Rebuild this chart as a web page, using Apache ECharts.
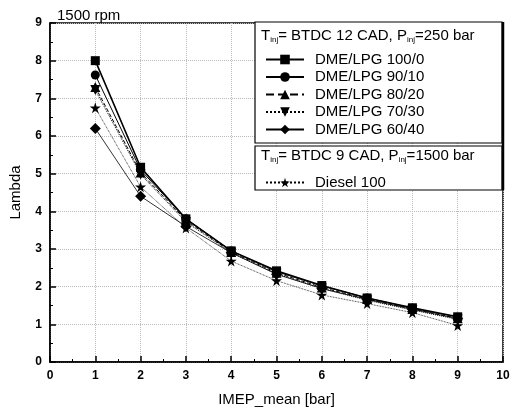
<!DOCTYPE html>
<html><head><meta charset="utf-8">
<script src="https://cdn.jsdelivr.net/npm/echarts@6/dist/echarts.min.js"></script>
<style>html,body{margin:0;padding:0;background:#fff}#c{width:525px;height:414px}</style>
</head><body><div id="c"></div>
<script>
const imep = [1, 2, 3, 4, 5, 6, 7, 8, 9];
const dme100_0 = [8.0, 5.17, 3.80, 2.95, 2.42, 2.03, 1.70, 1.44, 1.20];
const dme90_10 = [7.62, 5.10, 3.80, 2.95, 2.40, 2.02, 1.70, 1.43, 1.19];
const dme80_20 = [7.30, 5.03, 3.76, 2.92, 2.37, 1.98, 1.67, 1.41, 1.16];
const dme70_30 = [7.22, 4.98, 3.72, 2.90, 2.34, 1.95, 1.64, 1.38, 1.13];
const dme60_40 = [6.20, 4.40, 3.60, 2.90, 2.33, 1.95, 1.66, 1.40, 1.15];
const diesel100 = [6.75, 4.65, 3.56, 2.68, 2.16, 1.78, 1.55, 1.31, 0.97];
const seriesNames = ['DME/LPG 100/0','DME/LPG 90/10','DME/LPG 80/20','DME/LPG 70/30','DME/LPG 60/40','Diesel 100'];
const xTicks = [0,1,2,3,4,5,6,7,8,9,10];
const yTicks = [0,1,2,3,4,5,6,7,8,9];

const star = 'path://M50,0 L61,35 L98,35 L68,57 L79,91 L50,70 L21,91 L32,57 L2,35 L39,35 Z';
function pts(arr){ return imep.map((x,i)=>[x,arr[i]]); }
function mk(name, arr, symbol, size, lw, ltype, rot){
  return {name, type:'line', data:pts(arr), symbol, symbolSize:size, symbolRotate:rot||0,
    itemStyle:{color:'#000'}, lineStyle:{color:'#000', width:lw, type:ltype}, z:3};
}
const chart = echarts.init(document.getElementById('c'));
const sub = {fontSize:8, fontFamily:'Liberation Sans', color:'#000', padding:[8,0,0,0]};
const main = {fontSize:15, fontFamily:'Liberation Sans', color:'#000'};
const legText = {fontSize:15, fontFamily:'Liberation Sans', color:'#000', padding:[0,0,0,6]};
chart.setOption({
  animation:false,
  backgroundColor:'#fff',
  title:{text:'1500 rpm', left:52, top:3, textStyle:{fontSize:15, fontWeight:'normal', fontFamily:'Liberation Sans', color:'#000'}},
  grid:{left:49, right:22, top:23, bottom:52, show:true, borderColor:'#000', borderWidth:1.5, backgroundColor:'transparent'},
  xAxis:{type:'value', min:0, max:10, interval:1,
    name:'IMEP_mean [bar]', nameLocation:'middle', nameGap:30,
    nameTextStyle:{fontSize:15, fontFamily:'Liberation Sans', color:'#000'},
    axisLine:{lineStyle:{color:'#000', width:1.5}},
    axisTick:{inside:true, length:6, lineStyle:{color:'#000', width:1.5}},
    minorTick:{show:true, splitNumber:2, length:3, lineStyle:{color:'#000'}},
    axisLabel:{fontWeight:'bold', fontSize:12, fontFamily:'Liberation Sans', color:'#000', margin:8,
      formatter:v=>xTicks.includes(v)?String(v):''},
    splitLine:{show:true, lineStyle:{color:'#bbb', type:'dotted', width:1}}},
  yAxis:{type:'value', min:0, max:9, interval:1,
    name:'Lambda', nameLocation:'middle', nameGap:27, nameRotate:90,
    nameTextStyle:{fontSize:15, fontFamily:'Liberation Sans', color:'#000'},
    axisLine:{lineStyle:{color:'#000', width:1.5}},
    axisTick:{inside:true, length:6, lineStyle:{color:'#000', width:1.5}},
    minorTick:{show:true, splitNumber:2, length:3, lineStyle:{color:'#000'}},
    axisLabel:{fontWeight:'bold', fontSize:12, fontFamily:'Liberation Sans', color:'#000', margin:8,
      formatter:v=>yTicks.includes(v)?String(v):''},
    splitLine:{show:true, lineStyle:{color:'#bbb', type:'dotted', width:1}}},
  legend:[
    {z:20, data:seriesNames.slice(0,5), orient:'vertical', left:260, top:47, itemWidth:38, itemHeight:12, itemGap:2.5,
      textStyle:legText, selectedMode:false},
    {z:20, data:seriesNames.slice(5), orient:'vertical', left:260, top:170, itemWidth:38, itemHeight:12,
      textStyle:legText, selectedMode:false}
  ],
  graphic:[
    {type:'rect', shape:{x:255, y:22, width:247, height:121}, style:{fill:'#fff', stroke:'#000', lineWidth:1.2}, z:5},
    {type:'rect', shape:{x:255, y:146, width:247, height:44}, style:{fill:'#fff', stroke:'#000', lineWidth:1.2}, z:5},
    {type:'line', shape:{x1:503, y1:22, x2:503, y2:190}, style:{stroke:'#000', lineWidth:2.5}, z:6},
    {type:'text', left:261, top:28, z:7, style:{rich:{m:main, s:sub}, text:'{m|T}{s|inj}{m|= BTDC 12 CAD, P}{s|inj}{m|=250 bar}'}},
    {type:'text', left:261, top:148, z:7, style:{rich:{m:main, s:sub}, text:'{m|T}{s|inj}{m|= BTDC 9 CAD, P}{s|inj}{m|=1500 bar}'}}
  ],
  series:[
    mk(seriesNames[0], dme100_0, 'rect', 9, 1.6, 'solid'),
    mk(seriesNames[1], dme90_10, 'circle', 9, 1, 'solid'),
    mk(seriesNames[2], dme80_20, 'triangle', 10, 1, 'dashed'),
    mk(seriesNames[3], dme70_30, 'triangle', 10, 1, 'dotted', 180),
    mk(seriesNames[4], dme60_40, 'diamond', 11, 0.8, 'solid'),
    mk(seriesNames[5], diesel100, star, 11, 0.8, 'dotted')
  ]
});
</script></body></html>
